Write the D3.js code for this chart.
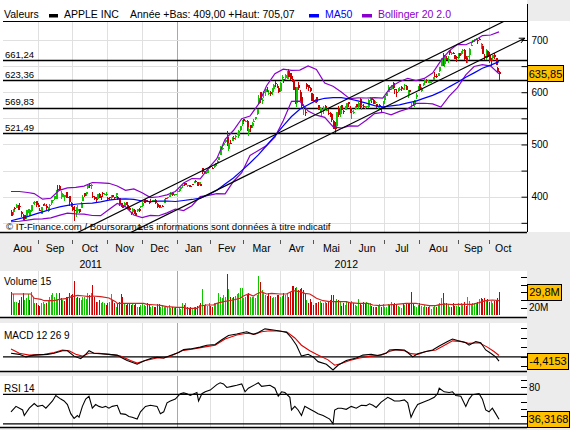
<!DOCTYPE html>
<html>
<head>
<meta charset="utf-8">
<script src="https://cdn.jsdelivr.net/npm/d3@7"></script>
<style>
  html, body { margin: 0; padding: 0; background: #ececec; }
  svg { display: block; font-family: "Liberation Sans", Arial, sans-serif; }
</style>
</head>
<body>
<svg id="chart" width="570" height="430"></svg>
<script>
// ---- data (AAPL daily, 10 Aug 2011 -> 9 Oct 2012), index = trading day ----
const ohlc = [
  // Aou 2011
  [371.2,374.7,362.5,363.7],[370.5,375.5,364.7,373.7],[378.1,379.6,371.6,377.0],[379.1,385.5,378.6,383.4],[381.0,384.0,375.0,380.5],[382.0,388.0,375.0,380.4],[370.0,372.0,360.5,366.1],[362.0,366.5,356.0,356.0],[364.5,364.9,353.3,356.4],[360.3,373.6,357.5,373.6],[372.4,377.0,368.0,376.2],[365.0,375.5,364.0,373.7],[372.0,384.0,370.0,383.6],[388.5,390.0,386.5,390.0],[388.0,391.0,385.0,390.0],[391.0,392.0,380.5,384.8],
  // Sep
  [385.0,387.5,381.0,381.0],[374.7,378.0,372.0,374.1],[367.0,380.0,366.5,379.7],[385.5,385.6,382.0,383.9],[383.0,388.0,382.0,384.1],[383.0,386.0,374.0,377.5],[372.0,380.0,371.5,379.9],[382.0,386.0,381.0,384.6],[387.0,394.0,383.5,389.3],[391.0,393.0,388.5,393.0],[395.0,400.5,394.5,400.5],[396.0,413.0,395.0,411.6],[415.0,422.0,411.5,413.5],[419.6,422.9,411.0,412.1],[401.0,410.0,395.0,401.8],[400.0,406.5,399.0,404.3],[399.9,403.9,391.0,403.2],[408.7,409.3,398.0,399.3],[400.2,403.7,396.9,397.0],[401.9,402.2,382.8,390.6],[387.1,388.9,381.2,381.3],
  // Oct
  [380.4,382.6,373.2,374.6],[374.6,381.8,354.2,372.5],[367.9,380.0,361.0,378.3],[373.3,384.8,371.0,377.4],[376.0,377.0,368.5,369.8],[379.1,388.9,378.2,388.8],[392.6,403.2,391.6,400.3],[407.3,407.6,400.3,402.2],[404.6,408.4,400.5,408.4],[416.8,422.0,415.3,422.0],[421.8,426.7,415.9,420.0],[421.8,424.8,415.0,422.2],[401.4,408.4,397.8,398.6],[400.0,400.4,394.0,395.3],[398.1,399.1,390.8,392.9],[396.2,406.0,394.3,405.8],[405.0,406.6,397.4,397.8],[401.8,402.0,393.3,400.6],[407.6,409.3,401.1,404.7],[403.0,406.3,402.5,405.0],[402.4,409.6,401.3,404.8],
  // Nov
  [397.4,399.5,393.2,396.5],[399.9,400.0,394.0,397.4],[398.4,403.6,393.0,403.1],[402.3,403.4,399.2,400.2],[399.9,400.0,393.6,399.7],[402.4,408.0,397.6,406.2],[400.0,401.3,393.3,395.3],[398.0,398.1,382.3,385.2],[387.0,388.0,380.4,384.6],[383.6,385.3,378.2,379.3],[380.8,389.5,379.5,388.8],[389.3,390.8,384.0,384.8],[383.9,384.6,375.5,377.4],[378.9,379.9,374.6,374.9],[370.0,371.0,365.5,369.0],[371.0,377.9,370.9,376.5],[374.5,375.8,366.9,367.0],[368.4,371.9,363.3,363.6],[372.4,376.8,370.3,376.1],[375.8,378.0,370.1,373.2],[381.3,382.0,378.3,382.2],
  // Dec
  [382.5,389.0,380.8,387.9],[389.8,393.6,388.6,389.7],[393.5,396.4,390.4,393.0],[392.5,394.6,389.4,391.0],[390.0,390.8,386.1,389.1],[391.5,395.5,388.4,390.7],[392.9,394.6,391.0,393.6],[391.7,393.9,389.0,391.8],[393.0,395.4,386.6,388.8],[386.7,387.4,377.7,380.2],[383.3,383.7,378.3,378.9],[380.4,384.2,379.6,381.0],[382.5,384.9,380.4,382.2],[387.8,396.0,387.0,396.0],[396.7,397.3,388.4,396.5],[397.0,399.1,396.0,398.6],[399.7,403.6,398.8,403.3],[403.1,409.1,403.0,406.5],[406.9,408.3,401.8,402.6],[403.4,405.7,400.5,405.1],[403.5,406.0,403.3,405.0],
  // Jan 2012
  [409.4,412.5,409.0,411.2],[410.0,414.7,409.3,413.4],[414.9,418.6,412.3,418.0],[419.8,422.8,417.5,422.4],[425.5,427.8,421.4,421.7],[425.9,426.0,421.5,423.2],[422.6,422.9,419.3,422.6],[422.3,422.9,418.6,421.4],[420.0,420.5,418.0,419.8],[425.0,425.0,422.3,424.7],[426.6,429.5,426.3,429.1],[430.0,431.4,426.1,427.8],[427.5,427.8,420.0,420.3],[422.7,428.5,422.3,427.4],[425.1,425.1,419.6,420.4],[454.4,454.5,443.7,446.7],[448.5,448.8,443.1,444.6],[444.3,448.5,443.8,447.3],[445.7,453.9,445.4,453.0],[455.6,458.2,453.1,456.5],
  // Fev
  [458.4,459.0,455.6,456.2],[455.9,457.2,453.9,455.1],[457.3,460.0,455.6,459.7],[458.4,465.0,458.2,464.0],[465.3,469.8,464.3,468.8],[470.5,476.8,469.7,476.7],[480.0,496.8,480.0,493.2],[491.0,497.6,488.6,493.4],[499.5,503.8,497.1,502.6],[504.7,509.6,502.0,509.5],[514.3,526.3,496.9,497.7],[491.5,504.9,486.6,502.2],[503.1,507.8,500.3,502.1],[506.9,514.9,506.5,514.9],[513.1,515.5,509.1,513.0],[515.1,517.8,508.1,516.4],[519.7,522.9,518.6,522.4],[517.1,528.0,513.1,525.8],[528.0,535.4,525.9,535.4],[541.6,547.6,535.7,542.4],
  // Mar
  [548.2,548.2,538.8,544.5],[544.2,546.8,542.5,545.2],[545.4,547.5,526.0,533.2],[523.7,533.7,516.2,530.3],[536.8,537.8,523.3,530.7],[534.7,543.0,532.1,542.0],[544.2,548.0,543.7,545.2],[549.0,552.0,546.0,552.0],[557.5,568.2,555.8,568.1],[578.1,594.7,575.4,589.6],[599.6,600.0,578.6,585.6],[584.7,589.2,578.0,585.6],[598.4,601.8,589.0,601.1],[599.5,606.0,592.0,606.0],[602.7,609.7,601.4,602.5],[597.8,604.5,595.5,599.3],[600.5,601.8,593.2,596.1],[599.8,607.2,595.3,607.0],[606.2,616.3,606.1,614.5],[618.4,621.5,610.3,617.6],[612.8,616.6,607.2,609.9],[608.8,610.6,597.9,599.6],
  // Avr
  [601.8,618.8,600.4,618.6],[627.3,632.2,622.4,629.3],[624.4,625.7,617.4,624.3],[627.0,634.7,623.4,633.7],[626.1,640.0,626.0,636.2],[639.9,644.0,626.0,628.4],[636.2,636.9,623.5,626.2],[625.0,631.3,620.5,622.8],[624.1,624.7,603.5,605.2],[610.1,610.2,578.3,580.1],[578.9,610.0,571.9,609.7],[613.7,620.0,603.7,608.3],[600.2,604.9,584.0,587.4],[591.4,596.0,570.0,573.0],[570.6,576.7,556.0,571.7],[562.6,567.0,555.0,560.3],[615.1,618.0,606.0,610.0],[613.8,614.7,602.1,607.7],[608.0,610.0,601.4,603.0],[597.8,598.4,583.0,584.0],
  // Mai
  [584.9,596.8,581.2,582.1],[580.6,587.4,578.9,586.0],[590.5,591.4,580.3,581.8],[575.5,576.0,565.2,565.3],[561.1,571.4,560.5,569.5],[565.6,569.0,555.0,568.2],[563.3,573.9,559.2,569.2],[574.6,575.0,565.6,570.5],[565.0,574.3,564.7,566.7],[560.8,567.5,556.9,558.2],[561.0,563.0,552.6,553.2],[557.5,557.7,542.8,546.1],[545.3,547.5,530.1,530.1],[534.0,543.4,522.2,530.4],[534.5,561.5,534.1,561.3],[569.6,573.9,552.6,557.0],[557.5,572.8,553.2,570.6],[575.9,576.5,561.2,565.3],[564.6,566.0,558.6,562.3],[570.9,574.0,565.3,572.3],[569.2,580.0,566.6,579.2],[580.7,581.5,571.5,577.7],
  // Jun
  [569.2,572.7,560.5,561.0],[561.5,567.5,548.5,564.3],[561.3,566.5,558.3,562.8],[567.8,573.0,565.5,571.5],[577.3,577.3,570.5,571.7],[571.6,580.6,568.0,580.3],[587.7,588.5,570.6,571.2],[574.5,576.6,566.7,576.2],[574.5,578.0,570.1,572.2],[571.2,573.5,567.3,571.5],[571.0,574.6,569.6,574.1],[571.0,587.9,570.4,585.8],[583.4,590.0,583.1,587.4],[588.2,589.3,579.8,585.7],[585.4,588.0,577.4,577.7],[579.0,582.5,576.6,582.1],[577.3,578.0,570.0,570.8],[570.9,574.5,566.0,572.0],[575.0,576.7,572.2,574.5],[571.7,571.8,562.7,569.1],[578.0,584.0,574.3,584.0],
  // Jul
  [584.7,593.5,583.6,592.5],[592.8,599.9,592.5,599.4],[600.0,614.0,599.7,609.9],[607.1,608.9,600.6,605.9],[605.3,613.9,604.0,613.9],[617.0,619.9,605.3,608.2],[606.0,607.0,597.2,604.4],[600.2,605.9,591.7,598.9],[602.9,607.2,600.2,605.0],[605.1,609.7,603.1,606.9],[610.2,611.5,603.2,606.9],[605.3,608.6,603.5,606.3],[611.0,615.4,606.0,614.3],[612.7,612.9,604.0,604.3],[595.0,604.7,588.5,603.8],[604.0,605.0,596.6,600.9],[575.0,580.0,570.0,575.0],[579.7,580.4,573.4,574.9],[575.0,585.8,571.1,585.2],[590.9,599.4,587.4,595.0],[603.2,611.7,603.0,610.8],
  // Aou
  [615.9,616.4,603.0,606.8],[602.8,610.7,600.3,607.8],[613.6,618.0,611.6,615.7],[617.3,624.9,615.3,622.6],[622.8,625.0,618.0,620.9],[619.4,623.9,617.1,619.9],[617.9,621.7,617.0,620.7],[618.7,621.8,618.1,621.7],[623.4,630.0,623.3,630.0],[631.9,638.6,630.2,631.7],[631.3,634.0,627.8,630.8],[631.0,636.8,630.6,636.3],[640.0,648.2,638.8,648.1],[650.0,665.2,649.9,665.2],[670.8,674.9,650.3,656.1],[654.4,669.0,648.1,668.9],[666.1,669.9,661.2,662.6],[659.5,669.0,655.6,663.2],[680.0,680.9,671.6,675.7],[674.1,677.0,671.7,674.8],[675.3,677.7,672.6,673.5],[670.6,671.6,662.8,663.9],[667.3,668.6,657.3,665.2],
  // Sep
  [665.8,675.1,664.5,675.0],[675.6,676.0,669.6,670.2],[673.2,678.3,670.8,676.3],[678.1,682.5,675.8,680.4],[680.5,683.3,662.6,662.7],[665.1,670.1,656.5,660.6],[666.9,669.9,656.0,669.8],[670.4,685.5,661.3,683.0],[690.0,697.0,687.9,691.3],[699.4,699.8,694.6,699.8],[699.9,702.3,696.4,701.9],[700.3,704.0,699.6,702.1],[699.2,700.1,693.1,698.7],[702.4,705.1,699.4,700.1],[686.9,695.1,682.6,690.8],[688.3,692.8,673.0,673.5],[668.7,672.7,661.3,665.2],[665.6,682.2,662.5,681.3],[678.7,681.1,666.8,667.1],
  // Oct
  [671.2,676.8,656.5,659.4],[661.8,666.4,650.7,661.3],[664.9,671.9,662.3,671.5],[671.3,674.3,663.0,666.8],[665.2,666.0,652.3,652.6],[646.9,647.6,636.1,638.2],[638.7,640.5,623.6,635.85]
];

// volume, millions of shares
const volumes = [
  30.8,27.8,17.8,17.8,15.7,20,24.3,29.5,20,22.2, 27.8,20,30.8,24.3,15.7,15.7,13.5,12.2,15.7,17.8,
  14.4,15.7,20,24.3,26.5,28.6,24.3,29.5,20,28.6, 22.2,20,19.1,23.5,24.3,28.6,26.5,27.8,45.1,22.2,
  24.3,22.2,20,23.5,24.3,20.9,28.6,26.5,29.5,39.5, 24.3,17.8,17.8,20,15.7,17.8,16.5,13.5,15.7,17.8,
  27.8,20,15.7,11.3,15.7,17.8,27.4,24.3,15.7,13.5, 15.7,14.4,13.5,15.7,13.5,15.7,11.3,10.5,13.5,15.7,
  13.5,12.2,15.7,14.8,11.3,12.2,10.5,11.3,14.4,14.4, 10.5,13.5,11.3,10.5,10.5,13.5,9.2,10.5,9.2,10.5,
  7.9,10.5,7.9,15.7,13.5,15.7,10.5,9.2,10.5,9.2, 11.3,10.5,12.2,13.5,15.7,34.3,13.5,14.8,12.2,15.7,
  12.2,10.5,15.7,15.7,16.5,29.5,24.3,22.2,26.5,24.3, 53.8,34.3,24.3,22.2,23.5,25.2,27.8,29.5,35.1,35.1,
  22.2,24.3,26.5,28.6,23.5,24.3,24.3,22.2,26.5,51.6, 43.8,33,28.6,26.5,25.2,28.6,25.2,22.2,23.5,24.3,
  26.5,26.5,24.3,25.2,28.6,26.5,27.8,24.3,30.8,38.2, 38.2,35.1,36.5,33,34.3,35.1,33,27.8,20,16.5,
  20.9,17.8,13.5,16.5,15.7,17.8,19.1,15.7,15.7,17.8, 15.7,19.1,20,26.5,26.5,17.8,20.9,20,17.8,12.2,
  15.7,13.5,19.1,17.8,15.7,19.1,16.5,13.5,12.2,20.9, 15.7,13.5,17,14.8,17.8,14.8,16.5,12.2,11.3,11.3,
  10.5,12.2,14.8,11.3,14.8,11.3,10.5,14.8,13.5,17.8, 13.5,16.5,13.5,12.2,11.3,9.2,15.7,13.5,16.5,15.7,
  14.8,30.8,15.7,12.2,11.3,13.5,15.7,12.2,11.3,13.5, 10.5,11.3,12.2,7.9,10.5,12.2,10.5,13.5,15.7,22.2,
  28.6,16.5,15.7,14.8,11.3,10.5,16.5,12.2,12.2,15.7, 11.3,15.7,13.5,17.8,12.2,24.3,19.1,13.5,15.7,15.7,
  14.8,17.8,20.9,22.2,20.9,22.2,19.1,20.9,17.8,19.1, 15.7,19.1,19.1,22.2,29.8
];

// indicator readings: [day index, value]
const ma50 = [[0,354],[5,358],[10,362],[15,367],[20,372],[25,377],[30,381],[35,384],[40,386],[44,387],[49,387.7],[54,390],[59,393.5],[64,395.4],[69,395.7],[74,394.7],[79,391.8],[84,390.7],[89,391.4],[94,391.8],[99,390.8],[104,392.7],[109,394.7],[114,397.2],[119,403.7],[124,412.4],[129,424.3],[134,435.8],[139,450],[144,464.6],[149,480.1],[154,498],[159,516.4],[164,535.5],[169,553.5],[174,567.3],[179,576.2],[184,584.4],[189,588.4],[194,589.8],[199,589.5],[204,587],[209,583.3],[214,579],[219,574.4],[224,572],[229,574],[234,575.7],[239,579.5],[244,583.1],[249,588.7],[254,593.9],[259,601.1],[264,610.3],[269,619],[274,628.6],[279,637.1],[284,645.9],[289,651.9],[294,658.6]];
// [day index, upper, lower]
const bollinger = [[0,410,352],[5,410,353],[10,408,355],[14,406,357],[19,395.2,357.6],[24,397,359.4],[29,412.2,364.2],[34,417,368.6],[39,417.9,367],[44,420.4,366.8],[49,427.2,364],[54,426.4,363.6],[59,425.7,375.3],[64,420.6,387],[69,412.2,380.6],[74,415,365],[79,407.6,359.9],[84,398.2,364.2],[89,399.9,363.5],[94,403.4,369],[99,410,376.4],[104,426.2,373.4],[109,434.8,382.8],[114,434.3,400.3],[119,454.6,402.6],[124,472.8,406],[129,509.8,405.4],[134,526.7,429.1],[139,549.2,446],[144,554.4,478.8],[149,576.8,488.6],[154,612.4,498],[159,635.4,514.2],[164,644.1,545.3],[169,641.8,582.6],[174,642.5,582.9],[179,650.3,563.9],[184,643.7,556.1],[189,617.5,551.9],[194,611.4,534.2],[199,600.3,531.5],[204,587.7,535.7],[209,589.1,535.1],[214,589,546.2],[219,589.7,559],[224,588.8,561.6],[229,610.8,556.8],[234,620.1,563.3],[239,626.7,568.4],[244,622.4,578.8],[249,626.5,578.9],[254,636.8,577.6],[259,660.4,571.6],[264,679.2,592.4],[269,691.6,608.8],[274,690.9,633.3],[279,698.1,649.3],[284,708.5,652.9],[289,709.6,650],[294,715.5,635.5]];
const volMA15 = [[0,27.8],[12,27.8],[14,22.2],[18,20.9],[20,19.1],[26,19.1],[29,20.9],[33,21.7],[35,23.5],[37,24.3],[40,26],[44,25.2],[47,24.3],[49,25.2],[54,24.3],[59,22.6],[63,17.8],[64,15.7],[74,15.7],[80,15.7],[82,14.4],[88,13.5],[90,13.1],[94,11.3],[100,10.5],[104,10.5],[106,9.2],[112,9.2],[114,12.2],[118,13.5],[122,13.5],[124,15.7],[128,17.8],[134,20],[138,22.2],[140,25.2],[143,27.8],[146,25.2],[148,27.8],[151,30.4],[154,27.8],[157,28.6],[162,27.8],[166,27.8],[170,32.1],[174,30.8],[177,28.6],[180,27.8],[182,25.2],[184,22.2],[188,19.1],[192,17.8],[202,17.8],[204,16.5],[209,15.7],[215,15.7],[218,13.5],[222,12.6],[226,13.5],[232,14.4],[238,15.7],[244,15.7],[246,14.8],[252,12.6],[256,12.6],[258,13.9],[262,14.8],[266,13.9],[270,14.4],[278,14.4],[282,16.5],[286,19.1],[290,20],[294,19.1]];
const macdLine = [[0,3.8],[5,2.7],[9,0],[14,1.9],[22,2.7],[26,3.8],[31,6.5],[34,6.5],[38,0.8],[42,-1.9],[45,2.7],[47,6.5],[50,3.8],[59,2.7],[64,1.9],[67,-1.1],[70,-3.8],[76,-7.7],[80,-4.2],[85,-1.1],[88,-0.4],[92,-1.1],[96,1.5],[101,4.6],[104,7.7],[108,8.4],[114,10.3],[118,12.3],[123,13],[127,18],[131,22.6],[136,24.1],[138,24.9],[142,26.4],[146,23.8],[149,25.7],[153,29.5],[158,28.4],[162,27.2],[166,25.7],[169,19.9],[172,12.3],[175,0.8],[179,2.7],[182,0],[185,-5],[190,-7.7],[194,-13.8],[197,-8.8],[202,-3.8],[208,-1.1],[212,1.9],[217,2.7],[221,1.5],[226,3.8],[228,7.3],[232,7.7],[237,7.3],[239,4.6],[242,0],[245,3.4],[250,5.7],[254,7.3],[258,11.5],[263,16.1],[266,18.8],[269,17.2],[274,14.9],[276,12.3],[280,16.1],[283,14.9],[286,7.3],[289,3.8],[292,0],[294,-4.4]];
const macdSignal = [[0,8.4],[5,3.8],[11,1.9],[20,2.7],[26,4.6],[31,7.3],[35,6.5],[39,2.7],[43,0.8],[47,3.8],[53,3.8],[59,2.7],[66,0.8],[72,-3.8],[76,-6.5],[81,-3.8],[88,-1.1],[92,-1.1],[96,0.8],[103,6.5],[110,8.4],[116,10.3],[123,12.3],[129,18.8],[136,23],[142,24.9],[147,23.8],[151,26.4],[156,27.6],[160,27.2],[166,26.4],[171,19.9],[175,12.3],[180,6.5],[184,2.7],[191,-3.1],[195,-8.8],[199,-6.9],[204,-3.8],[210,-1.1],[217,0.8],[223,1.9],[228,5.7],[232,7.7],[237,6.5],[241,3.4],[245,2.7],[250,5.7],[256,7.3],[262,13],[266,16.9],[272,16.1],[276,14.2],[282,14.9],[287,10.3],[291,5.7],[294,1.5]];
const rsi14 = [[0,46.3],[3,53.7],[7,48.8],[8,41.3],[11,51.2],[14,57.6],[16,53.7],[19,55.2],[21,51.2],[23,56.2],[25,61.1],[27,68.5],[30,63.6],[32,61.1],[34,56.2],[36,43.8],[38,37.4],[40,41.3],[41,38.9],[43,53.7],[45,63.6],[47,67.5],[49,51.2],[51,56.2],[53,53.7],[55,52.2],[57,53.7],[59,51.2],[61,53.7],[64,55.2],[66,43.8],[69,42.8],[71,39.9],[73,38.9],[76,36.4],[78,46.3],[81,53.7],[84,55.2],[88,53.7],[90,43.8],[92,46.3],[94,58.6],[96,61.1],[99,63.6],[102,71],[104,72],[106,71],[108,68.5],[112,72.5],[113,61.1],[115,71],[117,73.5],[120,75.9],[124,83.3],[126,85.8],[128,84.3],[130,79.4],[133,80.9],[136,82.4],[139,84.3],[141,73.5],[143,78.4],[147,83.3],[149,85.8],[151,80.9],[156,82.4],[159,78.4],[161,67.5],[163,73.5],[165,72.5],[168,66],[169,48.8],[171,53.7],[173,48.8],[175,41.3],[177,53.7],[181,48.8],[183,46.3],[185,43.8],[188,41.3],[192,36.4],[194,30],[195,48.8],[197,51.2],[199,51.2],[202,49.7],[205,53.7],[208,51.2],[211,55.2],[214,54.7],[216,57.2],[218,55.2],[220,52.2],[223,59.6],[227,66],[229,63.6],[231,61.1],[234,61.1],[237,62.6],[239,58.6],[241,38.9],[243,48.8],[245,56.2],[249,60.1],[252,62.6],[255,66],[257,71],[258,78.4],[261,73.5],[264,72.5],[266,73.5],[268,68.5],[271,67.5],[274,53.7],[276,63.6],[278,69.5],[282,71],[284,63.6],[286,48.8],[288,46.3],[290,51.2],[292,43.8],[294,36.3]];

const levels = [661.24, 623.36, 569.83, 521.49];
// support/resistance lines: two anchor points [day, price] and the day range drawn
const trendLines = [
  { a: [80, 394.2], b: [280, 709.0], from: 40, to: 305, arrow: false },
  { a: [114, 397.1], b: [294, 679.2], from: 70, to: 309.5, arrow: true }
];
const months = ["Aou","Sep","Oct","Nov","Dec","Jan","Fev","Mar","Avr","Mai","Jun","Jul","Aou","Sep","Oct"];
// first trading day of each month; first and last entries are the visible edges
const monthStarts = [-2,16,37,58,79,100,120,140,162,182,204,225,246,269,288,305];
const years = [["2011", 48], ["2012", 202]];

// ---- drawing ----
const svg = d3.select("#chart");
const col = { green: "#10c400", red: "#cc0000", grid: "#e0e0e0", blue: "#0000ff", purple: "#8a00cc", box: "#ffc000" };
const L = 3, R = 527;
const x = d3.scaleLinear().domain([0, ohlc.length - 1]).range([11, 499]);
const y = d3.scaleLinear().domain([400, 700]).range([196.7, 40]);
const yVol = d3.scaleLinear().domain([0, 50]).range([315.4, 276.9]);
const yMacd = d3.scaleLinear().domain([0, 10]).range([356.9, 347.4]);
const yRsi = d3.scaleLinear().domain([30, 70]).range([423.8, 394.4]);
const comma = v => String(v).replace(".", ",");

svg.append("rect").attr("width", 570).attr("height", 430).attr("fill", "#ececec");
svg.append("rect").attr("width", R).attr("height", 21).attr("fill", "#fff");
svg.append("rect").attr("y", 21).attr("width", 570).attr("height", 211).attr("fill", "#fff");

const panels = [
  { top: 271, bottom: 317 },
  { top: 323, bottom: 371 },
  { top: 376, bottom: 427 }
];
panels.forEach(p => svg.append("rect").attr("x", 0).attr("y", p.top).attr("width", R).attr("height", p.bottom - p.top).attr("fill", "#fff"));

const bounds = monthStarts.slice(1, -1);
// vertical month grid in every panel
[{ top: 21, bottom: 232 }].concat(panels).forEach(p => {
  svg.append("g").selectAll("line").data(bounds).join("line")
    .attr("x1", d => Math.round(x(d)) + 0.5).attr("x2", d => Math.round(x(d)) + 0.5)
    .attr("y1", p.top).attr("y2", p.bottom)
    .attr("stroke", d => d === 100 ? "#a8a8a8" : col.grid);
});

// horizontal price grid
svg.append("g").selectAll("line").data(d3.range(350, 701, 50)).join("line")
  .attr("x1", L).attr("x2", R).attr("y1", d => Math.round(y(d)) + 0.5).attr("y2", d => Math.round(y(d)) + 0.5)
  .attr("stroke", col.grid);

svg.append("clipPath").attr("id", "mainclip").append("rect")
  .attr("x", L).attr("y", 21).attr("width", R - L).attr("height", 211);
const main = svg.append("g").attr("clip-path", "url(#mainclip)");

// horizontal levels
main.append("g").selectAll("line").data(levels).join("line")
  .attr("x1", L).attr("x2", R).attr("y1", d => Math.round(y(d)) + 0.5).attr("y2", d => Math.round(y(d)) + 0.5)
  .attr("stroke", "#000").attr("stroke-width", 1.3);
svg.append("g").selectAll("text").data(levels).join("text")
  .attr("x", 5).attr("y", d => y(d) - 2.5).attr("font-size", 9.5).text(d => comma(d.toFixed(2)));

// candles
const cg = main.append("g").attr("shape-rendering", "crispEdges");
cg.selectAll("line").data(ohlc).join("line")
  .attr("x1", (d, i) => Math.round(x(i)) + 0.5).attr("x2", (d, i) => Math.round(x(i)) + 0.5)
  .attr("y1", d => y(d[1])).attr("y2", d => y(d[2]))
  .attr("stroke", d => d[3] >= d[0] ? col.green : col.red);
cg.selectAll("rect").data(ohlc).join("rect")
  .attr("x", (d, i) => Math.round(x(i))).attr("width", 2)
  .attr("y", d => y(Math.max(d[0], d[3])))
  .attr("height", d => Math.max(1, Math.abs(y(d[0]) - y(d[3]))))
  .attr("fill", d => d[3] >= d[0] ? col.green : col.red);

// indicators
const pLine = (sy, k = 1) => d3.line().x(d => x(d[0])).y(d => sy(d[k]));
main.append("path").datum(bollinger).attr("d", pLine(y, 1)).attr("fill", "none").attr("stroke", col.purple).attr("stroke-width", 1.2);
main.append("path").datum(bollinger).attr("d", pLine(y, 2)).attr("fill", "none").attr("stroke", col.purple).attr("stroke-width", 1.2);
main.append("path").datum(ma50).attr("d", pLine(y)).attr("fill", "none").attr("stroke", col.blue).attr("stroke-width", 1.2);

// trend lines
const at = (t, d) => t.a[1] + (t.b[1] - t.a[1]) * (d - t.a[0]) / (t.b[0] - t.a[0]);
main.append("g").selectAll("line").data(trendLines).join("line")
  .attr("x1", t => x(t.from)).attr("y1", t => y(at(t, t.from)))
  .attr("x2", t => x(t.to)).attr("y2", t => y(at(t, t.to)))
  .attr("stroke", "#000").attr("stroke-width", 1.2);
trendLines.filter(t => t.arrow).forEach(t => {
  const x2 = x(t.to), y2 = y(at(t, t.to));
  const ang = Math.atan2(y2 - y(at(t, t.to - 3)), x2 - x(t.to - 3));
  const p = [[x2, y2], [x2 - 6 * Math.cos(ang - 0.45), y2 - 6 * Math.sin(ang - 0.45)], [x2 - 6 * Math.cos(ang + 0.45), y2 - 6 * Math.sin(ang + 0.45)]];
  svg.append("path").attr("d", "M" + p[0] + "L" + p[1] + "M" + p[0] + "L" + p[2]).attr("stroke", "#000").attr("fill", "none");
});

// copyright
svg.append("text").attr("x", 6).attr("y", 230).attr("font-size", 9.6).text("© IT-Finance.com / Boursorama");
svg.append("text").attr("x", 138).attr("y", 230).attr("font-size", 9.6).text("Les informations sont données à titre indicatif");

// frame
svg.append("line").attr("x1", L).attr("x2", R).attr("y1", 21.5).attr("y2", 21.5).attr("stroke", "#000");
svg.append("line").attr("x1", R + 0.5).attr("x2", R + 0.5).attr("y1", 4).attr("y2", 232).attr("stroke", "#000");
svg.append("line").attr("x1", 0).attr("x2", R).attr("y1", 232.5).attr("y2", 232.5).attr("stroke", "#000").attr("stroke-width", 1.5);

// price axis
const yAxis = d3.axisRight(y).tickValues(d3.range(350, 701, 50)).tickSize(-6).tickPadding(4)
  .tickFormat(d => d % 100 === 0 ? d : "");
const ya = svg.append("g").attr("transform", `translate(${R + 0.5},0)`).call(yAxis);
ya.select(".domain").remove();
ya.selectAll("text").attr("font-size", 10).attr("font-family", "Liberation Sans, Arial");

// header
const header = svg.append("g").attr("font-size", 10.5);
header.append("text").attr("x", 4).attr("y", 18).text("Valeurs");
header.append("rect").attr("x", 49).attr("y", 14).attr("width", 9).attr("height", 3.5).attr("fill", "#000");
header.append("text").attr("x", 64).attr("y", 18).text("APPLE INC");
header.append("text").attr("x", 130).attr("y", 18).text("Année +Bas: 409,00 +Haut: 705,07");
header.append("rect").attr("x", 309).attr("y", 14).attr("width", 10).attr("height", 3.5).attr("fill", col.blue);
header.append("text").attr("x", 325).attr("y", 18).attr("fill", col.blue).text("MA50");
header.append("rect").attr("x", 362).attr("y", 14).attr("width", 10).attr("height", 3.5).attr("fill", col.purple);
header.append("text").attr("x", 378).attr("y", 18).attr("fill", col.purple).text("Bollinger 20 2.0");

// month axis
const mid = months.map((m, i) => [m, (monthStarts[i] + monthStarts[i + 1]) / 2]);
svg.append("g").selectAll("text").data(mid).join("text")
  .attr("x", d => x(d[1])).attr("y", 251.5).attr("text-anchor", "middle").attr("font-size", 10.5).text(d => d[0]);
svg.append("g").selectAll("text").data(years).join("text")
  .attr("x", d => x(d[1])).attr("y", 268).attr("text-anchor", "middle").attr("font-size", 10.5).text(d => d[0]);
svg.append("g").selectAll("line").data(bounds).join("line")
  .attr("x1", d => Math.round(x(d)) + 0.5).attr("x2", d => Math.round(x(d)) + 0.5)
  .attr("y1", 240).attr("y2", 244).attr("stroke", "#555");

// volume panel
const vg = svg.append("g").attr("shape-rendering", "crispEdges");
vg.selectAll("rect").data(volumes).join("rect")
  .attr("x", (d, i) => Math.round(x(i))).attr("width", 1)
  .attr("y", d => yVol(d)).attr("height", d => yVol(0) - yVol(d))
  .attr("fill", (d, i) => (i === 0 ? ohlc[0][3] >= ohlc[0][0] : ohlc[i][3] >= ohlc[i - 1][3]) ? col.green : col.red);
svg.append("path").datum(volMA15).attr("d", pLine(yVol)).attr("fill", "none").attr("stroke", "#d42020").attr("stroke-width", 1.2);

// macd panel
svg.append("line").attr("x1", L).attr("x2", R).attr("y1", yMacd(0)).attr("y2", yMacd(0)).attr("stroke", "#000").attr("stroke-width", 1.2);
svg.append("path").datum(macdSignal).attr("d", pLine(yMacd)).attr("fill", "none").attr("stroke", "#e00000").attr("stroke-width", 1.1);
svg.append("path").datum(macdLine).attr("d", pLine(yMacd)).attr("fill", "none").attr("stroke", "#000").attr("stroke-width", 1.1);

// rsi panel
[70, 30].forEach(v => svg.append("line").attr("x1", L).attr("x2", R).attr("y1", yRsi(v)).attr("y2", yRsi(v)).attr("stroke", "#000").attr("stroke-width", 1.2));
svg.append("path").datum(rsi14).attr("d", pLine(yRsi)).attr("fill", "none").attr("stroke", "#000").attr("stroke-width", 1.1);

// panel borders, labels and right ticks
panels.forEach(p => svg.append("line").attr("x1", 0).attr("x2", R).attr("y1", p.bottom + 0.5).attr("y2", p.bottom + 0.5).attr("stroke", "#000").attr("stroke-width", 1.5));
const ticks = (sy, vals) => svg.append("g").selectAll("line").data(vals).join("line")
  .attr("x1", R - 6).attr("x2", R).attr("y1", d => Math.round(sy(d)) + 0.5).attr("y2", d => Math.round(sy(d)) + 0.5).attr("stroke", "#000");
ticks(yVol, [10, 20, 30, 40, 50]);
ticks(yMacd, [-10, 0, 10, 20, 30]);
ticks(yRsi, [40, 50, 60, 70, 80, 90]);
svg.append("text").attr("x", 4).attr("y", 285).attr("font-size", 10).text("Volume 15");
svg.append("text").attr("x", 4).attr("y", 339).attr("font-size", 10).text("MACD 12 26 9");
svg.append("text").attr("x", 4).attr("y", 392).attr("font-size", 10).text("RSI 14");
// "20M" sits just under the last-value box, as in the source where the box hides its top
svg.append("text").attr("x", 529).attr("y", 310.5).attr("font-size", 10).text("20M");
svg.append("text").attr("x", 529).attr("y", yRsi(80) + 4).attr("font-size", 10).text("80");

// last-value boxes
const boxes = [
  [y(ohlc[ohlc.length - 1][3]), "635,85", 36],
  [yVol(volumes[volumes.length - 1]), "29,8M", 34],
  [yMacd(macdLine[macdLine.length - 1][1]), "-4,4153", 41],
  [yRsi(rsi14[rsi14.length - 1][1]), "36,3168", 42]
];
boxes.forEach(([yc, t, w]) => {
  svg.append("rect").attr("x", R + 0.5).attr("y", Math.round(yc - 8.5) + 0.5).attr("width", w).attr("height", 16)
    .attr("fill", col.box).attr("stroke", "#000");
  svg.append("text").attr("x", R + 0.5 + w / 2).attr("y", Math.round(yc) + 4).attr("text-anchor", "middle").attr("font-size", 11).text(t);
});
</script>
</body>
</html>
